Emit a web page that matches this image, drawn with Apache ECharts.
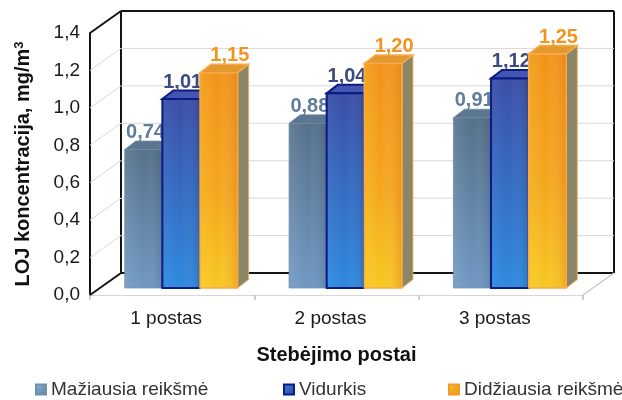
<!DOCTYPE html>
<html>
<head>
<meta charset="utf-8">
<script src="https://cdn.jsdelivr.net/npm/echarts@6/dist/echarts.min.js"></script>
<style>
  html, body { margin: 0; padding: 0; background: #ffffff; }
  #chart { width: 622px; height: 400px; }
</style>
</head>
<body>
<div id="chart"></div>
<script>
// Station categories and measured LOJ concentrations (mg/m3)
const categories = ['1 postas', '2 postas', '3 postas'];
const seriesNames = ['Mažiausia reikšmė', 'Vidurkis', 'Didžiausia reikšmė'];
const minValues = [0.74, 0.88, 0.91];
const meanValues = [1.01, 1.04, 1.12];
const maxValues = [1.15, 1.20, 1.25];
const yTicks = [0, 0.2, 0.4, 0.6, 0.8, 1.0, 1.2, 1.4];

const FONT = '"Liberation Sans", Arial, Helvetica, sans-serif';
const DEPTH = [31, -22];      // receding vector of the whole floor depth
const BAR_FRONT = [9, -7];    // bar front faces sit a bit behind the front plane
const BAR_DEPTH = [11, -8.5]; // thickness of each column
const BAR_W = 0.229;          // column width as a share of the category band
const LEGEND_LEFT = [30, 278, 443];

const fmtValue = v => v.toFixed(2).replace('.', ',');
const fmtTick = v => v.toFixed(1).replace('.', ',');
const lg = (x0, y0, x1, y1, stops) =>
  new echarts.graphic.LinearGradient(x0, y0, x1, y1,
    stops.map(s => ({ offset: s[0], color: s[1] })));

const barStyles = [
  { // minimum
    front: lg(0, 0, 0, 1, [[0, '#55708a'], [1, '#6f98c3']]),
    shade: lg(0, 0, 1, 0, [[0, 'rgba(255,255,255,0.10)'], [0.5, 'rgba(255,255,255,0)'], [1, 'rgba(20,30,40,0.16)']]),
    top: '#5b7690', side: '#5a6a78', stroke: 'rgba(110,140,170,0.7)', lw: 1,
    label: '#5f7d9c', labelDx: 2, legend: lg(0, 0, 1, 1, [[0, '#8fb1d6'], [1, '#5d7f9f']]), legendStroke: '#6f8fb0'
  },
  { // mean
    front: lg(0, 0, 0, 1, [[0, '#3a4ea6'], [1, '#2e8ae0']]),
    shade: lg(0, 0, 1, 0, [[0, 'rgba(255,255,255,0.06)'], [0.5, 'rgba(255,255,255,0)'], [1, 'rgba(10,20,80,0.18)']]),
    top: '#4357b0', side: '#34449a', stroke: '#0b1a84', lw: 2,
    label: '#3d4a82', labelDx: 1.5, legend: lg(0, 0, 1, 1, [[0, '#3b7fd8'], [1, '#2b4aa8']]), legendStroke: '#0b1a84'
  },
  { // maximum
    front: lg(0, 0, 0, 1, [[0, '#f29216'], [0.55, '#f4a61a'], [1, '#f8c61f']]),
    shade: lg(0, 0, 1, 0, [[0, 'rgba(255,235,80,0.18)'], [0.45, 'rgba(255,255,255,0)'], [1, 'rgba(215,95,0,0.30)']]),
    top: '#e4992e', side: '#8b8668', stroke: '#f7aa4c', lw: 1.5,
    label: '#f1951f', labelDx: 11, legend: lg(0, 0, 1, 1, [[0, '#f9c823'], [1, '#ee8c12']]), legendStroke: '#f39a2a'
  }
];

// Back wall, side wall and gridlines, one item per value tick
function renderWalls(params, api) {
  const v = api.value(1);
  const cs = params.coordSys;
  const L = cs.x, R = cs.x + cs.width;
  const y = api.coord([0, v])[1];
  const [dx, dy] = DEPTH;
  const isEdge = v === yTicks[0] || v === yTicks[yTicks.length - 1];
  const color = isEdge ? '#141414' : '#d9d9d9';
  const lw = isEdge ? 2 : 1;
  const children = [
    { type: 'line', shape: { x1: L + dx, y1: y + dy, x2: R + dx, y2: y + dy }, style: { stroke: color, lineWidth: lw } },
    { type: 'line', shape: { x1: L, y1: y, x2: L + dx, y2: y + dy }, style: { stroke: color, lineWidth: lw } }
  ];
  if (v === yTicks[0]) {
    const yTop = api.coord([0, yTicks[yTicks.length - 1]])[1];
    children.unshift({ type: 'polygon', shape: { points: [[L, y], [R, y], [R + dx, y + dy], [L + dx, y + dy]] }, style: { fill: '#ffffff' } });
    children.push(
      { type: 'line', shape: { x1: L + dx, y1: yTop + dy, x2: L + dx, y2: y + dy }, style: { stroke: '#141414', lineWidth: 2 } },
      { type: 'line', shape: { x1: R + dx, y1: yTop + dy, x2: R + dx, y2: y + dy }, style: { stroke: '#141414', lineWidth: 2 } },
      { type: 'line', shape: { x1: R, y1: y, x2: R + dx, y2: y + dy }, style: { stroke: '#c9c9c9', lineWidth: 1.5 } }
    );
  }
  return { type: 'group', children };
}

// 3D column: side face, top face, front face and the value label
function barRenderer(k) {
  const st = barStyles[k];
  return function (params, api) {
    const c = api.value(0), v = api.value(1);
    const base = api.coord([c, 0]);
    const topP = api.coord([c, v]);
    const w = api.size([1, 0])[0] * BAR_W;
    const x0 = base[0] + (k - 1.5) * w + BAR_FRONT[0];
    const x1 = x0 + w;
    const yB = base[1] + BAR_FRONT[1];
    const yT = topP[1] + BAR_FRONT[1];
    const [dx, dy] = BAR_DEPTH;
    return {
      type: 'group',
      children: [
        { type: 'polygon', shape: { points: [[x1, yT], [x1 + dx, yT + dy], [x1 + dx, yB + dy], [x1, yB]] },
          style: { fill: st.side, stroke: st.stroke, lineWidth: st.lw * 0.6 } },
        { type: 'polygon', shape: { points: [[x0, yT], [x1, yT], [x1 + dx, yT + dy], [x0 + dx, yT + dy]] },
          style: { fill: st.top, stroke: st.stroke, lineWidth: st.lw } },
        { type: 'rect', shape: { x: x0, y: yT, width: w, height: yB - yT },
          style: { fill: st.front } },
        { type: 'rect', shape: { x: x0, y: yT, width: w, height: yB - yT },
          style: { fill: st.shade, stroke: st.stroke, lineWidth: st.lw } },
        { type: 'text',
          style: { text: fmtValue(v), x: (x0 + x1) / 2 + st.labelDx, y: yT - 7,
                   align: 'center', verticalAlign: 'bottom',
                   fill: st.label, fontSize: 20, fontWeight: 'bold', fontFamily: FONT } }
      ]
    };
  };
}

const valueSets = [minValues, meanValues, maxValues];

const chart = echarts.init(document.getElementById('chart'), null, { renderer: 'canvas' });
chart.setOption({
  animation: false,
  backgroundColor: '#ffffff',
  textStyle: { fontFamily: FONT },
  grid: { left: 90, right: 39, top: 33, bottom: 105, containLabel: false },
  xAxis: {
    type: 'category',
    data: categories,
    axisLine: { lineStyle: { color: '#c9c9c9', width: 1.5 } },
    axisTick: { show: true, length: 5, lineStyle: { color: '#c0c0c0', width: 1.5 } },
    axisLabel: { fontSize: 19, color: '#1a1a1a', margin: 14, padding: [0, 12, 0, 0], fontFamily: FONT },
    name: 'Stebėjimo postai',
    nameLocation: 'middle',
    nameGap: 50,
    nameTextStyle: { fontSize: 20, fontWeight: 'bold', color: '#111', fontFamily: FONT }
  },
  yAxis: {
    type: 'value',
    min: 0, max: 1.4, interval: 0.2,
    axisLine: { show: true, lineStyle: { color: '#141414', width: 2 } },
    axisTick: { show: false },
    splitLine: { show: false },
    axisLabel: { fontSize: 19, color: '#1a1a1a', margin: 10, formatter: fmtTick, fontFamily: FONT },
    name: 'LOJ koncentracija, mg/m{sup|3}',
    nameLocation: 'middle',
    nameGap: 57,
    nameTextStyle: {
      fontSize: 20, fontWeight: 'bold', color: '#111', fontFamily: FONT,
      rich: { sup: { fontSize: 13, fontWeight: 'bold', color: '#111', verticalAlign: 'top', lineHeight: 13, fontFamily: FONT } }
    }
  },
  legend: seriesNames.map((name, k) => ({
    data: [name],
    icon: 'rect',
    left: LEGEND_LEFT[k], top: 375,
    itemWidth: 10, itemHeight: 10,
    textStyle: { fontSize: 19, color: '#333', fontFamily: FONT }
  })),
  series: [
    {
      type: 'custom', name: 'walls', z: 1, silent: true,
      renderItem: renderWalls,
      encode: { x: 0, y: 1 },
      data: yTicks.map(v => [0, v])
    }
  ].concat(valueSets.map((vals, k) => ({
    type: 'custom',
    name: seriesNames[k],
    z: 2,
    renderItem: barRenderer(k),
    encode: { x: 0, y: 1 },
    itemStyle: { color: barStyles[k].legend, borderColor: barStyles[k].legendStroke, borderWidth: 1 },
    data: vals.map((v, i) => [i, v])
  })))
});
</script>
</body>
</html>
